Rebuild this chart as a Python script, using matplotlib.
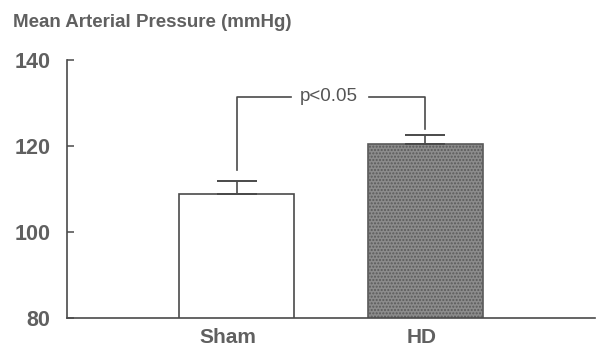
import numpy as np
import matplotlib.pyplot as plt

# data
groups = ['Sham', 'HD']
means = [108.8, 120.5]
errs = [3.0, 2.1]
p_text = 'p<0.05'

ink = '#4a4a4a'
plt.rcParams['font.family'] = ['Liberation Sans', 'DejaVu Sans']

fig = plt.figure(figsize=(6.01, 3.51), dpi=100)
ax = fig.add_axes([0.1115, 0.094, 0.879, 0.735])

x = np.arange(len(groups))
bars = ax.bar(x, means, width=0.61, bottom=0, color=['white', '#8c8c8c'],
              edgecolor=ink, linewidth=1.2)
bars[1].set_hatch('.....')
bars[1].set_edgecolor('#5a5a5a')

ax.errorbar(x, means, yerr=[[0, 0], errs], fmt='none', ecolor=ink,
            elinewidth=1.2, capsize=14.5, capthick=1.4)

# significance bracket
top = 131.4
legs = [means[0] + errs[0] + 2.6, means[1] + errs[1] + 1.4]
ax.plot([x[0], x[0], 0.285], [legs[0], top, top], color=ink, lw=1.2)
ax.plot([0.70, x[1], x[1]], [top, top, legs[1]], color=ink, lw=1.2)
ax.text(0.49, top, p_text, ha='center', va='center', fontsize=13.5,
        color='#555555')

ax.set_xlim(-0.9, 1.9)
ax.set_ylim(80, 140)
ax.set_yticks([80, 100, 120, 140])
# labels sit slightly left of the bar centres in the original
ax.set_xticks(x - [0.05, 0.02])
ax.set_xticklabels(groups, fontsize=15, fontweight='bold', color='#606060')
ax.tick_params(axis='y', direction='in', length=5, width=1.1, color=ink,
               labelsize=15.5, labelcolor='#606060', pad=12)
for lab in ax.get_yticklabels():
    lab.set_fontweight('bold')
ax.tick_params(axis='x', length=0, pad=7)

for s in ['top', 'right']:
    ax.spines[s].set_visible(False)
for s in ['left', 'bottom']:
    ax.spines[s].set_color(ink)
    ax.spines[s].set_linewidth(1.2)

fig.text(0.022, 0.935, 'Mean Arterial Pressure (mmHg)', fontsize=13.5,
         fontweight='bold', color='#606060', va='center')

fig.savefig('out.png', dpi=100)
